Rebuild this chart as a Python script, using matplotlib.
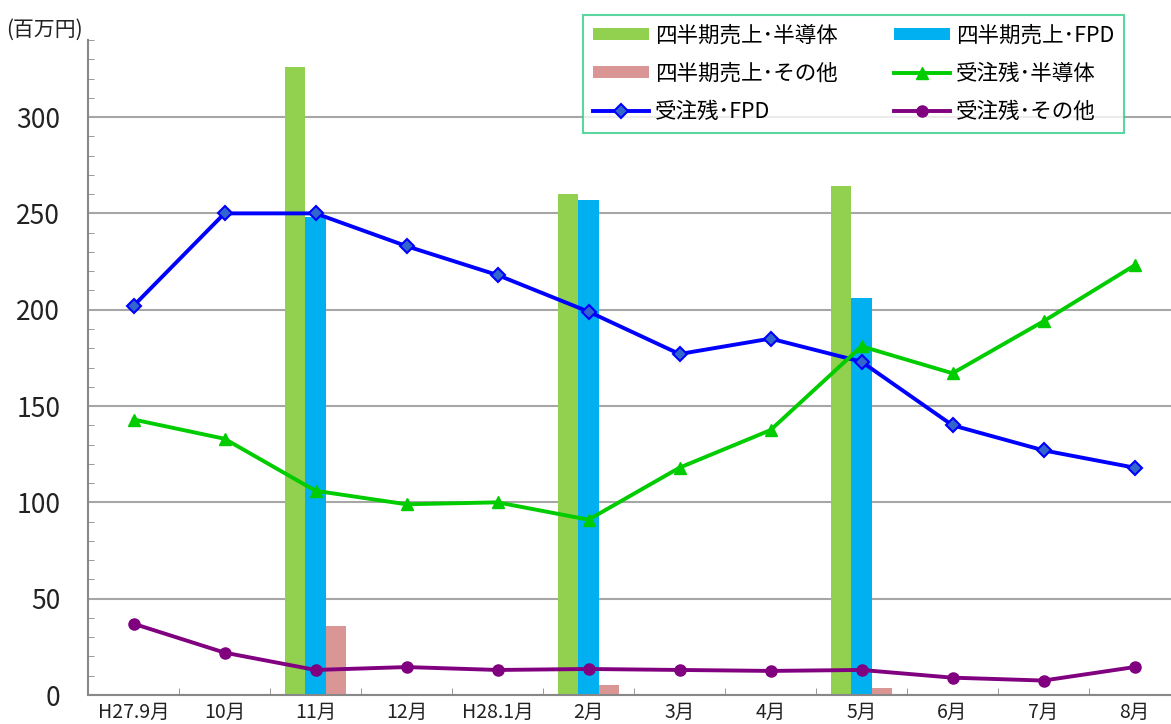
import numpy as np
import matplotlib.pyplot as plt
from matplotlib.ticker import MultipleLocator, FixedLocator

plt.rcParams['font.family'] = ['Noto Sans CJK JP', 'DejaVu Sans']

months = ['H27.9月', '10月', '11月', '12月', 'H28.1月', '2月', '3月', '4月', '5月', '6月', '7月', '8月']

# quarterly sales (bars), only at quarter ends
sales_semi = [np.nan, np.nan, 326, np.nan, np.nan, 260, np.nan, np.nan, 264, np.nan, np.nan, np.nan]
sales_fpd = [np.nan, np.nan, 248, np.nan, np.nan, 257, np.nan, np.nan, 206, np.nan, np.nan, np.nan]
sales_other = [np.nan, np.nan, 36, np.nan, np.nan, 5, np.nan, np.nan, 3.5, np.nan, np.nan, np.nan]

# order backlog (lines)
bl_semi = [143, 133, 106, 99, 100, 91, 118, 137.5, 181, 167, 194, 223]
bl_fpd = [202, 250, 250, 233, 218, 199, 177, 185, 173, 140, 127, 118]
bl_other = [37, 22, 13, 14.5, 13, 13.5, 13, 12.5, 13, 9, 7.5, 14.5]

fig = plt.figure(figsize=(11.71, 7.24), dpi=100)
ax = fig.add_axes([88 / 1171, 29 / 724, 1092 / 1171, 655 / 724])

x = np.arange(len(months))
w = 0.22
b1 = ax.bar(x - w, sales_semi, w, color='#92d050', zorder=2)
b3 = ax.bar(x + w, sales_other, w, color='#d99694', zorder=2)
b2 = ax.bar(x, sales_fpd, w, color='#00b0f0', zorder=2)

l2, = ax.plot(x, bl_fpd, color='#0000ff', lw=2.8, marker='D', ms=7,
              mfc='#3366cc', mec='#0000ff', mew=1.5, zorder=4)
l1, = ax.plot(x, bl_semi, color='#00cc00', lw=2.8, marker='^', ms=8,
              mfc='#00cc00', mec='#00cc00', zorder=4)
l3, = ax.plot(x, bl_other, color='#800080', lw=2.8, marker='o', ms=8,
              mfc='#800080', mec='#800080', zorder=4)

ax.set_xlim(-0.5, 11.5)
ax.set_ylim(0, 340)
ax.set_yticks([0, 50, 100, 150, 200, 250, 300])
ax.yaxis.set_minor_locator(MultipleLocator(10))
ax.grid(axis='y', which='major', color='#a6a6a6', lw=1.5, zorder=0)
ax.set_xticks(x)
ax.set_xticklabels(months)
ax.xaxis.set_minor_locator(FixedLocator(np.arange(0.5, 11.5, 1)))
ax.tick_params(axis='x', which='major', length=0, pad=5, labelsize=14, colors='#222222')
ax.tick_params(axis='x', which='minor', direction='in', length=5, color='#888888')
ax.tick_params(axis='y', which='major', direction='in', length=0, pad=20, labelsize=19, colors='#222222')
ax.tick_params(axis='y', which='minor', direction='in', length=4, color='#888888')

for s in ['top', 'right']:
    ax.spines[s].set_visible(False)
for s in ['left', 'bottom']:
    ax.spines[s].set_color('#888888')
    ax.spines[s].set_linewidth(1.5)

fig.text(6 / 1171, 1 - 30 / 724, '(百万円)', fontsize=15, va='center', ha='left', color='#222222')

handles = [b1, b3, l2, b2, l1, l3]
labels = ['四半期売上･半導体', '四半期売上･その他', '受注残･FPD',
          '四半期売上･FPD', '受注残･半導体', '受注残･その他']
leg = fig.legend(handles, labels, loc='upper left', bbox_to_anchor=(583 / 1171, 1 - 15 / 724),
                 borderaxespad=0, ncol=2, fontsize=15.5, frameon=True, fancybox=False,
                 handlelength=2.6, handleheight=0.5, handletextpad=0.3, columnspacing=2.6,
                 labelspacing=0.75, borderpad=0.45)
leg.get_frame().set_edgecolor('#33cc88')
leg.get_frame().set_linewidth(1.5)

fig.savefig('out.png', dpi=100)
